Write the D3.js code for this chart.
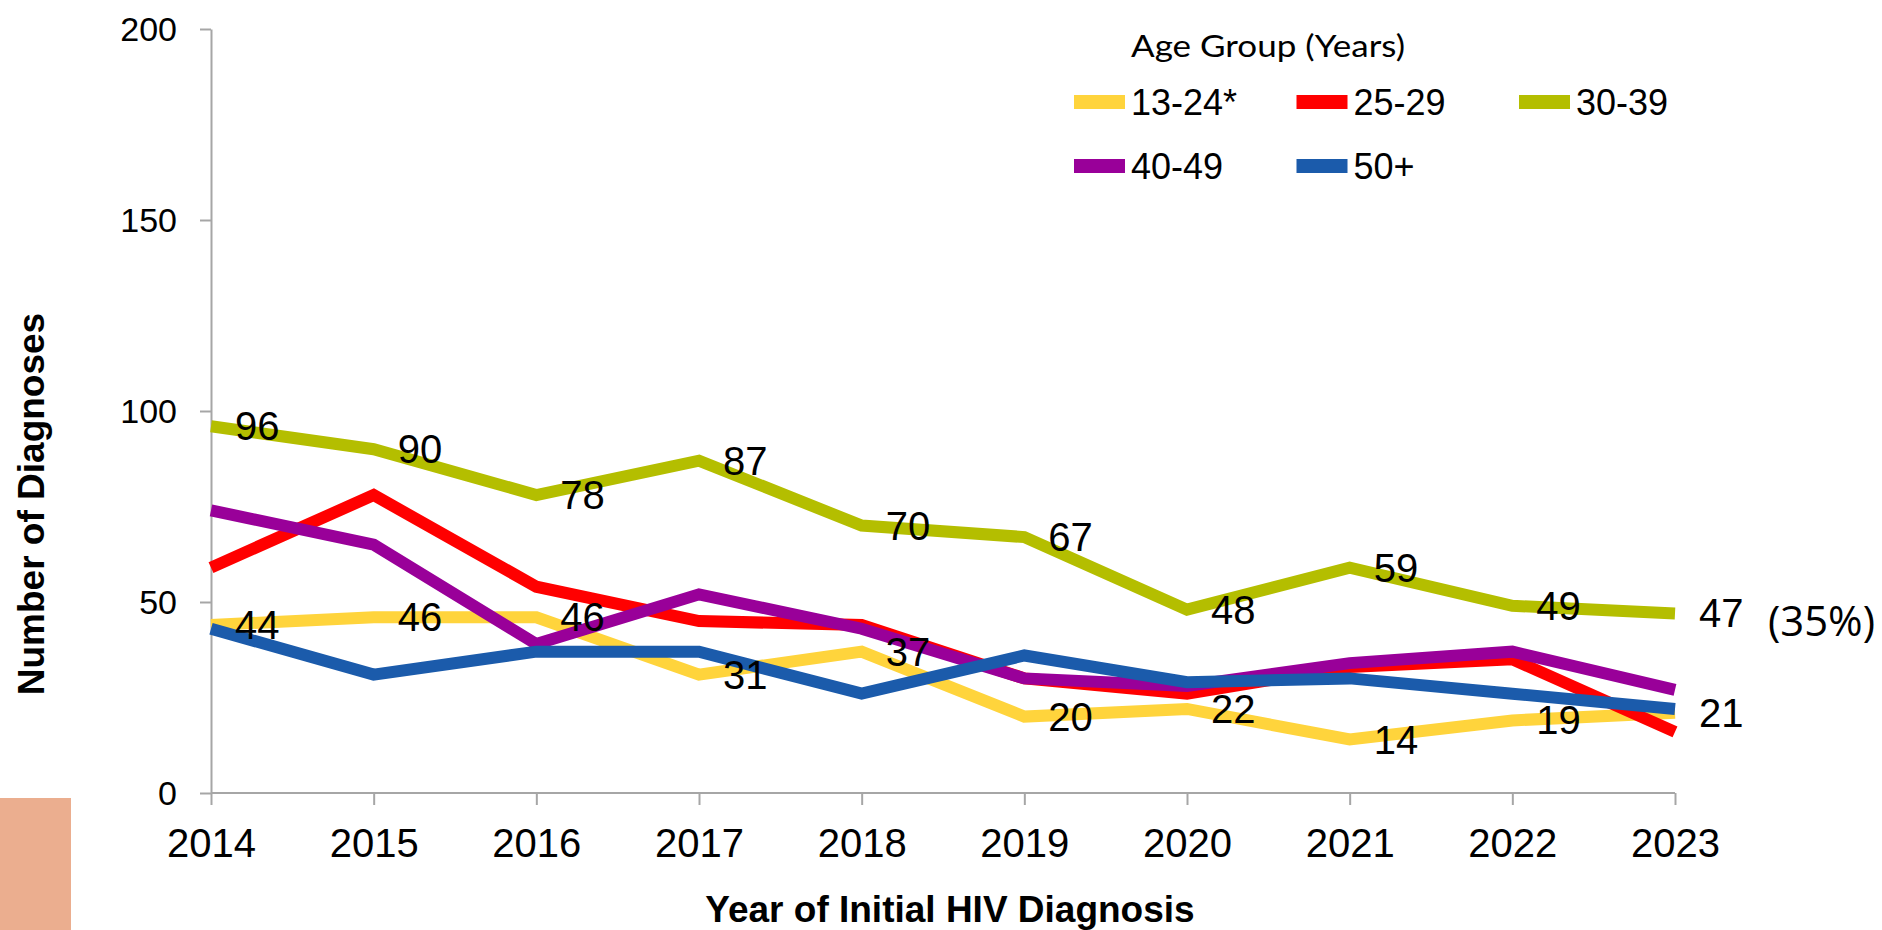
<!DOCTYPE html>
<html>
<head>
<meta charset="utf-8">
<script src="https://cdn.jsdelivr.net/npm/d3@7"></script>
<style>
  body { margin: 0; background: #fff; }
  svg { display: block; }
</style>
</head>
<body>
<div id="chart"></div>
<script>
// data
const years = ["2014", "2015", "2016", "2017", "2018", "2019", "2020", "2021", "2022", "2023"];
const age13to24 = [44, 46, 46, 31, 37, 20, 22, 14, 19, 21];
const age25to29 = [59, 78, 54, 45, 44, 30, 26, 33, 35, 16];
const age30to39 = [96, 90, 78, 87, 70, 67, 48, 59, 49, 47];
const age40to49 = [74, 65, 39, 52, 43, 30, 28, 34, 37, 27];
const age50plus = [43, 31, 37, 37, 26, 36, 29, 30, 26, 22];
const groupNames = ["13-24*", "25-29", "30-39", "40-49", "50+"];
const yTicks = [0, 50, 100, 150, 200];
const lastShare = "(35%)";

const groupColors = ["#FFD43C", "#FF0000", "#B4BE00", "#990099", "#1B5BAB"];
const labelled = [true, false, true, false, false];

const series = [age13to24, age25to29, age30to39, age40to49, age50plus].map((vals, i) => ({
    name: groupNames[i],
    color: groupColors[i],
    labelled: labelled[i],
    values: vals.map((v, j) => ({year: years[j], value: v}))
}));

const W = 1882, H = 930;
const svg = d3.select("#chart").append("svg")
    .attr("width", W)
    .attr("height", H)
    .style("font-family", "'Liberation Sans', Arial, sans-serif");

svg.append("rect").attr("width", W).attr("height", H).attr("fill", "#fff");

// orange block bottom left
svg.append("rect")
    .attr("x", 0).attr("y", 798)
    .attr("width", 71).attr("height", H - 798)
    .attr("fill", "#EBAE8F");

let x = d3.scalePoint().domain(years).range([211, 1675]);
let y = d3.scaleLinear().domain([0, 200]).range([793, 29]);

// axes
let xAxis = d3.axisBottom(x).tickSize(12).tickSizeOuter(0);
let yAxis = d3.axisLeft(y).tickValues(yTicks).tickSize(11).tickSizeOuter(0);

let gx = svg.append("g")
    .attr("class", "x-axis")
    .attr("transform", "translate(0," + y(0) + ")")
    .call(xAxis);
gx.select(".domain").attr("d", "M" + x(years[0]) + ",0H" + x(years[years.length - 1]));
gx.selectAll("text")
    .attr("y", 64)
    .attr("dy", 0)
    .style("font-size", "40px")
    .style("font-family", "'Liberation Sans', Arial, sans-serif")
    .attr("fill", "#000");

let gy = svg.append("g")
    .attr("class", "y-axis")
    .attr("transform", "translate(" + x(years[0]) + ",0)")
    .call(yAxis);
gy.selectAll("text")
    .attr("x", -34)
    .attr("dy", "0.35em")
    .style("font-size", "34px")
    .style("font-family", "'Liberation Sans', Arial, sans-serif")
    .attr("fill", "#000");

svg.selectAll(".x-axis path, .x-axis line, .y-axis path, .y-axis line")
    .attr("stroke", "#a6a6a6")
    .attr("stroke-width", 2);

// lines
let line = d3.line()
    .x(d => x(d.year))
    .y(d => y(d.value));

svg.selectAll(".series-line")
    .data(series)
    .enter()
    .append("path")
    .attr("class", "series-line")
    .attr("fill", "none")
    .attr("stroke", d => d.color)
    .attr("stroke-width", 12)
    .attr("stroke-linejoin", "miter")
    .attr("stroke-linecap", "butt")
    .attr("d", d => line(d.values));

// data labels
series.filter(s => s.labelled).forEach(s => {
    svg.selectAll(null)
        .data(s.values)
        .enter()
        .append("text")
        .attr("x", d => x(d.year) + 24)
        .attr("y", d => y(d.value))
        .attr("dy", "0.35em")
        .style("font-size", "40px")
        .attr("fill", "#000")
        .text(d => d.value);
});

let last = series[2].values[series[2].values.length - 1];
svg.append("text")
    .attr("x", 1768)
    .attr("y", y(last.value) + 8)
    .attr("dy", "0.35em")
    .attr("textLength", 107)
    .attr("lengthAdjust", "spacingAndGlyphs")
    .style("font-family", "'Open Sans', sans-serif")
    .style("font-size", "42px")
    .attr("fill", "#000")
    .text(lastShare);

// axis titles
svg.append("text")
    .attr("transform", "translate(44," + 504 + ") rotate(-90)")
    .attr("text-anchor", "middle")
    .style("font-size", "37px")
    .style("font-weight", "700")
    .attr("fill", "#000")
    .text("Number of Diagnoses");

svg.append("text")
    .attr("x", 950)
    .attr("y", 922)
    .attr("text-anchor", "middle")
    .style("font-size", "37px")
    .style("font-weight", "700")
    .attr("fill", "#000")
    .text("Year of Initial HIV Diagnosis");

// legend
svg.append("text")
    .attr("x", 1131)
    .attr("y", 57)
    .attr("textLength", 274)
    .attr("lengthAdjust", "spacingAndGlyphs")
    .style("font-family", "Lato, 'Open Sans', sans-serif")
    .style("font-size", "31px")
    .attr("fill", "#000")
    .text("Age Group (Years)");

let legend = svg.selectAll(".legend-item")
    .data(series)
    .enter()
    .append("g")
    .attr("class", "legend-item")
    .attr("transform", (d, i) => "translate(" + (1074 + (i % 3) * 222.5) + "," + (102 + Math.floor(i / 3) * 64) + ")");

legend.append("rect")
    .attr("x", 0)
    .attr("y", -7)
    .attr("width", 51)
    .attr("height", 14)
    .attr("fill", d => d.color);

legend.append("text")
    .attr("x", 57)
    .attr("y", 0)
    .attr("dy", "0.35em")
    .style("font-size", "36px")
    .attr("fill", "#000")
    .text(d => d.name);
</script>
</body>
</html>
